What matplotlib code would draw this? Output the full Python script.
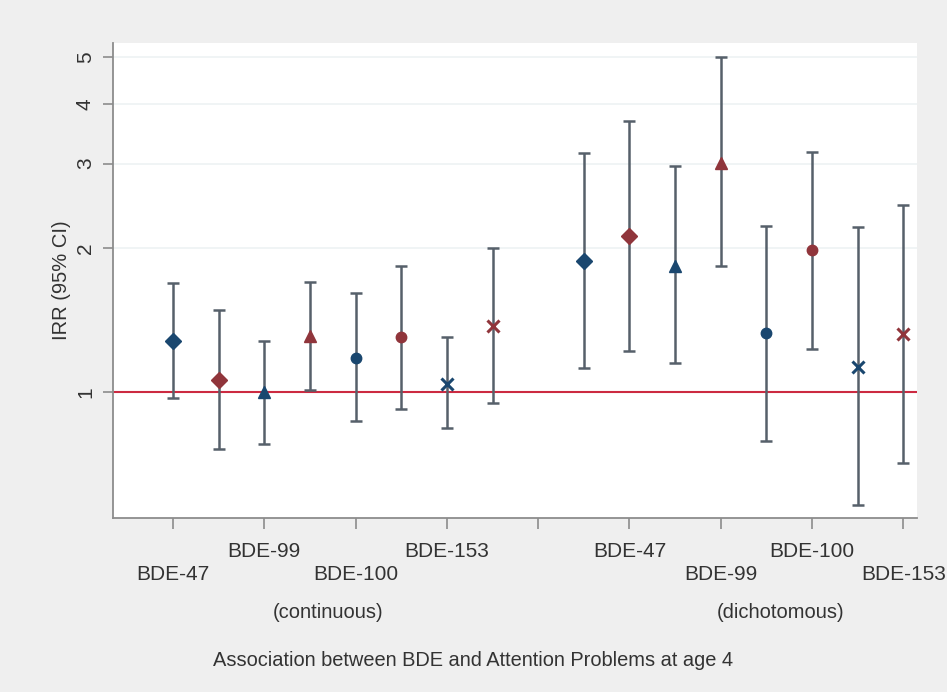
import numpy as np
import matplotlib
matplotlib.use('Agg')
import matplotlib.pyplot as plt
from matplotlib.ticker import NullLocator
import matplotlib.transforms as mtransforms

plt.rcParams['font.family'] = ['Liberation Sans', 'DejaVu Sans']

# IRR estimates, per congener (BDE-47, -99, -100, -153)
congeners = ['BDE-47', 'BDE-99', 'BDE-100', 'BDE-153']
groups = ['(continuous)', '(dichotomous)']

# continuous exposure, first model (navy) and second model (maroon)
cont_m1_irr = [1.28, 1.00, 1.18, 1.04]
cont_m1_lo = [0.97, 0.78, 0.87, 0.84]
cont_m1_hi = [1.69, 1.28, 1.61, 1.30]
cont_m2_irr = [1.06, 1.31, 1.30, 1.37]
cont_m2_lo = [0.76, 1.01, 0.92, 0.95]
cont_m2_hi = [1.48, 1.70, 1.83, 2.00]

# dichotomous exposure
dich_m1_irr = [1.88, 1.83, 1.33, 1.13]
dich_m1_lo = [1.12, 1.15, 0.79, 0.58]
dich_m1_hi = [3.15, 2.96, 2.22, 2.21]
dich_m2_irr = [2.12, 3.01, 1.98, 1.32]
dich_m2_lo = [1.22, 1.83, 1.23, 0.71]
dich_m2_hi = [3.69, 5.00, 3.18, 2.46]

tick_labels = ['BDE-47', 'BDE-99', 'BDE-100', 'BDE-153', '',
               'BDE-47', 'BDE-99', 'BDE-100', 'BDE-153']
yticks = [1, 2, 3, 4, 5]

navy = '#1a476f'
maroon = '#90353b'
bar_col = '#56606a'
markers = ['D', '^', 'o', 'x']
msizes = [8, 8, 7.5, 9]

fig = plt.figure(figsize=(9.47, 6.92), dpi=100)
fig.patch.set_facecolor('#efefef')
ax = fig.add_axes([0.1193, 0.2514, 0.849, 0.6864])
ax.set_facecolor('white')

series = [
    (0, 0, cont_m1_irr, cont_m1_lo, cont_m1_hi, navy),
    (0, 1, cont_m2_irr, cont_m2_lo, cont_m2_hi, maroon),
    (1, 0, dich_m1_irr, dich_m1_lo, dich_m1_hi, navy),
    (1, 1, dich_m2_irr, dich_m2_lo, dich_m2_hi, maroon),
]

ax.axhline(1, color='#cc2a41', lw=1.5, zorder=2)

for g, m, irr, lo, hi, col in series:
    irr = np.array(irr)
    lo = np.array(lo)
    hi = np.array(hi)
    x = 1 + 4.5 * g + np.arange(len(irr)) + 0.5 * m
    ax.errorbar(x, irr, yerr=[irr - lo, hi - irr], fmt='none', ecolor=bar_col,
                elinewidth=1.8, capsize=4.5, capthick=1.8, zorder=3)
    for k in range(len(irr)):
        if markers[k] == 'x':
            ax.plot(x[k], irr[k], marker='x', ms=msizes[k], mew=2.2, color=col,
                    ls='none', zorder=4)
        else:
            ax.plot(x[k], irr[k], marker=markers[k], ms=msizes[k], color=col,
                    mec=col, ls='none', zorder=4)

ax.set_yscale('log')
ax.set_ylim(0.545, 5.36)
ax.set_xlim(0.343, 9.149)
ax.set_yticks(yticks)
ax.set_yticklabels([str(v) for v in yticks])
ax.yaxis.set_minor_locator(NullLocator())
ax.grid(axis='y', color='#eef2f4', lw=1.2, zorder=0)

pos = np.arange(1, len(tick_labels) + 1)
ax.set_xticks(pos)
ax.set_xticklabels([lab if i % 2 else '\n' + lab for i, lab in enumerate(tick_labels)])
for t in ax.get_xticklabels():
    t.set_linespacing(1.3)

for s in ['top', 'right']:
    ax.spines[s].set_visible(False)
for s in ['left', 'bottom']:
    ax.spines[s].set_color('#8c8c8c')
    ax.spines[s].set_linewidth(1.3)

ax.tick_params(axis='x', length=8, width=1.2, color='#8c8c8c', labelsize=15,
               labelcolor='#333333', pad=9)
ax.tick_params(axis='y', length=7, width=1.2, color='#8c8c8c', labelsize=15,
               labelcolor='#333333', labelrotation=90, pad=6)
for t in ax.get_yticklabels():
    t.set_va('center')

ax.set_ylabel('IRR (95% CI)', fontsize=14.5, color='#333333')
ax.yaxis.set_label_coords(-0.052, 0.5)

trans = mtransforms.blended_transform_factory(ax.transData, fig.transFigure)
ax.text(2.70, 0.1156, groups[0], transform=trans, ha='center', va='center',
        fontsize=14.5, color='#333333')
ax.text(7.66, 0.1156, groups[1], transform=trans, ha='center', va='center',
        fontsize=14.5, color='#333333')

fig.text(0.5, 0.045, 'Association between BDE and Attention Problems at age 4',
         ha='center', va='center', fontsize=14.4, color='#333333')

fig.savefig('out.png', dpi=100, facecolor=fig.get_facecolor())
